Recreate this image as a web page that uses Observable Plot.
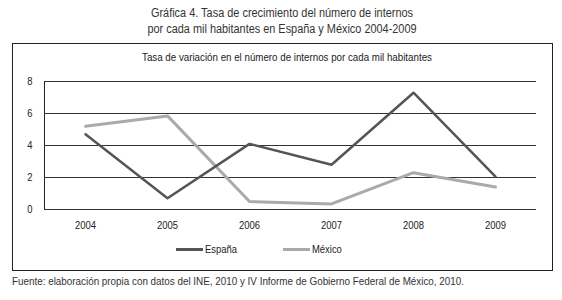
<!DOCTYPE html>
<html>
<head>
<meta charset="utf-8">
<script src="https://cdn.jsdelivr.net/npm/d3@7"></script>
<script src="https://cdn.jsdelivr.net/npm/@observablehq/plot@0.6"></script>
<style>
  html, body { margin: 0; padding: 0; background: #fff; }
  body { width: 562px; height: 300px; position: relative; overflow: hidden;
         font-family: "Liberation Sans", Arial, sans-serif; color: #222; }
  .abs { position: absolute; white-space: nowrap; }
  .t { font-size: 12.5px; line-height: 16px; color: #333; transform-origin: 50% 50%; }
  #t1 { left: 282px; top: 5px; }
  #t2 { left: 282px; top: 21px; }
  #box { left: 12px; top: 43px; width: 541px; height: 228px; border: 1px solid #222; box-sizing: border-box; }
  #inner { left: 287px; top: 51px; font-size: 11px; color: #222; transform-origin: 50% 50%; }
  #chart { left: 13px; top: 44px; }
  .leg { top: 243px; font-size: 11.5px; line-height: 12px; color: #222; display: flex; align-items: center; }
  .sw { display: inline-block; width: 27px; height: 3px; margin-right: 2px; }
  #source { left: 12px; top: 275px; font-size: 11.5px; color: #333; transform-origin: 0 50%; }
</style>
</head>
<body>
<div id="t1" class="abs t">Gráfica 4. Tasa de crecimiento del número de internos</div>
<div id="t2" class="abs t">por cada mil habitantes en España y México 2004-2009</div>
<div id="box" class="abs"></div>
<div id="inner" class="abs">Tasa de variación en el número de internos por cada mil habitantes</div>
<div id="chart" class="abs"></div>
<div id="legend"></div>
<div id="source" class="abs">Fuente: elaboración propia con datos del INE, 2010 y IV Informe de Gobierno Federal de México, 2010.</div>
<script>
const years = ["2004", "2005", "2006", "2007", "2008", "2009"];
const espana = [4.7, 0.7, 4.1, 2.8, 7.3, 2.05];
const mexico = [5.2, 5.85, 0.5, 0.35, 2.3, 1.4];
const seriesNames = ["España", "México"];
const seriesColors = ["#555555", "#aaaaaa"];
const yTicks = [0, 2, 4, 6, 8];

const rows = [];
years.forEach((y, i) => {
  rows.push({year: y, value: espana[i], serie: seriesNames[0]});
  rows.push({year: y, value: mexico[i], serie: seriesNames[1]});
});

const chart = Plot.plot({
  width: 539,
  height: 226,
  marginLeft: 31,
  marginRight: 16,
  marginTop: 37,
  marginBottom: 61,
  style: {fontFamily: '"Liberation Sans", Arial, sans-serif', fontSize: "11.5px", color: "#222", background: "transparent"},
  x: {type: "point", domain: years, padding: 0.5, label: null, tickSize: 0, tickPadding: 11},
  y: {domain: [0, 8], ticks: yTicks, label: null, tickSize: 0, tickPadding: 12, line: true},
  color: {domain: seriesNames, range: seriesColors},
  marks: [
    Plot.ruleY(yTicks, {stroke: "#333", strokeWidth: 1}),
    Plot.line(rows.filter(d => d.serie === seriesNames[1]), {x: "year", y: "value", stroke: seriesColors[1], strokeWidth: 3}),
    Plot.line(rows.filter(d => d.serie === seriesNames[0]), {x: "year", y: "value", stroke: seriesColors[0], strokeWidth: 2.5})
  ]
});
document.getElementById("chart").appendChild(chart);

// narrow the svg tick labels (reference uses a condensed face)
chart.querySelectorAll("text").forEach(t => {
  const w = t.getComputedTextLength();
  if (w > 0) {
    t.setAttribute("textLength", (w * 0.82).toFixed(2));
    t.setAttribute("lengthAdjust", "spacingAndGlyphs");
  }
});

const legendPos = [176, 283];
const legend = document.getElementById("legend");
seriesNames.forEach((name, i) => {
  const item = document.createElement("div");
  item.className = "abs leg";
  item.style.left = legendPos[i] + "px";
  const sw = document.createElement("span");
  sw.className = "sw";
  sw.style.background = seriesColors[i];
  item.appendChild(sw);
  const tx = document.createElement("span");
  tx.textContent = name;
  tx.style.display = "inline-block";
  tx.style.transformOrigin = "0 50%";
  tx.style.transform = "scaleX(0.82)";
  item.appendChild(tx);
  legend.appendChild(item);
});

// condensed look for html texts: fit to widths
function fit(id, target, centered) {
  const el = document.getElementById(id);
  const w = el.getBoundingClientRect().width;
  const s = target / w;
  el.style.transform = (centered ? "translateX(-50%) " : "") + "scaleX(" + s.toFixed(3) + ")";
}
fit("t1", 262, true);
fit("t2", 269, true);
fit("inner", 290, true);
fit("source", 452, false);
</script>
</body>
</html>
